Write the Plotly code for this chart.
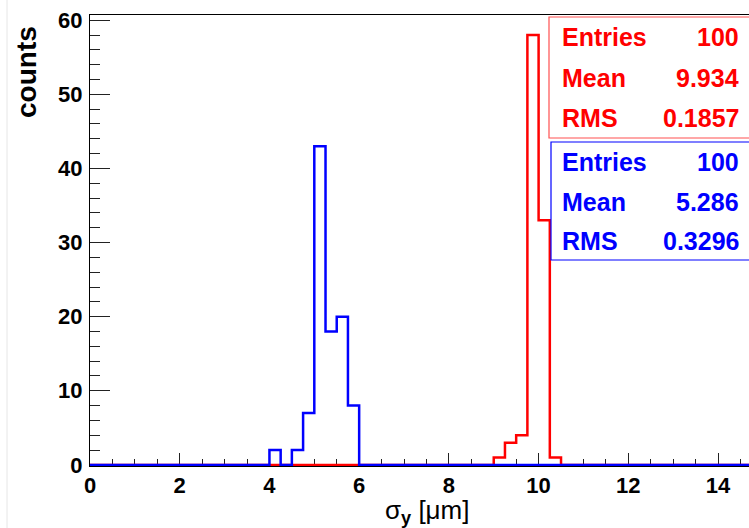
import numpy as np
import plotly.graph_objects as go

# ---- data ----
x_min, x_max, n_bins = 0.0, 15.0, 60
blue_bin_lo = [4.00, 4.25, 4.50, 4.75, 5.00, 5.25, 5.50, 5.75]
blue_counts = [2, 0, 2, 7, 43, 18, 20, 8]
red_bin_lo = [9.00, 9.25, 9.50, 9.75, 10.00, 10.25]
red_counts = [1, 3, 4, 58, 33, 1]

stat_labels = ["Entries", "Mean", "RMS"]
red_stats = ["100", "9.934", "0.1857"]
blue_stats = ["100", "5.286", "0.3296"]

x_ticks = [0, 2, 4, 6, 8, 10, 12, 14]
y_ticks = [0, 10, 20, 30, 40, 50, 60]

edges = np.linspace(x_min, x_max, n_bins + 1)
width = edges[1] - edges[0]


def full_hist(lo, cnt):
    h = np.zeros(n_bins)
    for a, c in zip(lo, cnt):
        h[int(round((a - x_min) / width))] = c
    return h


def step(h):
    return list(edges), list(h) + [h[-1]]


RED = "#ff0000"
BLUE = "#0000ff"
FONT = "Liberation Sans, Arial, sans-serif"

fig = go.Figure()
rx, ry = step(full_hist(red_bin_lo, red_counts))
bx, by = step(full_hist(blue_bin_lo, blue_counts))
fig.add_trace(go.Scatter(x=rx, y=ry, mode="lines", line=dict(color=RED, width=2.5, shape="hv"),
                         showlegend=False, hoverinfo="skip"))
fig.add_trace(go.Scatter(x=bx, y=by, mode="lines", line=dict(color=BLUE, width=2.5, shape="hv"),
                         showlegend=False, hoverinfo="skip"))

W, H = 749, 528
L, R, T, B = 90, 0, 15, 62
PW, PH = W - L - R, H - T - B


def px(xp):
    return (xp - L) / PW


def py(yp):
    return (H - B - yp) / PH


fig.update_layout(
    width=W, height=H,
    margin=dict(l=L, r=R, t=T, b=B),
    paper_bgcolor="white", plot_bgcolor="white",
    font=dict(family=FONT, color="black"),
    xaxis=dict(range=[0, (W - L) / 44.86], tickvals=x_ticks, ticktext=[str(v) for v in x_ticks],
               ticks="inside", ticklen=13, tickwidth=1, tickcolor="#222",
               minor=dict(dtick=0.5, ticks="inside", ticklen=7, tickwidth=1, tickcolor="#222"),
               showline=True, linecolor="black", linewidth=1, mirror=True,
               showgrid=False, zeroline=False, layer="below traces",
               tickfont=dict(size=22, family=FONT, weight="bold"), ticklabelstandoff=0),
    yaxis=dict(range=[-0.15, 60.7], tickvals=y_ticks, ticktext=[str(v) for v in y_ticks],
               ticks="inside", ticklen=20, tickwidth=1, tickcolor="#222",
               minor=dict(dtick=2, ticks="inside", ticklen=10, tickwidth=1, tickcolor="#222"),
               showline=True, linecolor="black", linewidth=1,
               showgrid=False, zeroline=False, layer="below traces",
               tickfont=dict(size=22, family=FONT, weight="bold"), ticklabelstandoff=2),
)

shapes = []
annotations = []
# faint frame edge at left of canvas
shapes.append(dict(type="line", xref="paper", yref="paper", x0=px(7), x1=px(7), y0=py(0), y1=py(H),
                   line=dict(color="#e6e6e6", width=1)))

boxes = [
    (RED, red_stats, 549, 17, 138, [37, 78, 118], "#ff5050"),
    (BLUE, blue_stats, 551, 142, 260, [162, 202, 241], BLUE),
]
for col, vals, bx0, by0, by1, rows, bcol in boxes:
    shapes.append(dict(type="rect", xref="paper", yref="paper", layer="above",
                       x0=px(bx0), x1=px(W + 5), y0=py(by1), y1=py(by0),
                       fillcolor="white", line=dict(color=bcol, width=1.2)))
    for lab, val, yr in zip(stat_labels, vals, rows):
        annotations.append(dict(xref="paper", yref="paper", x=px(560), y=py(yr), text=lab,
                                xanchor="left", yanchor="middle", showarrow=False,
                                font=dict(size=25, color=col, family=FONT, weight="bold")))
        annotations.append(dict(xref="paper", yref="paper", x=px(741), y=py(yr), text=val,
                                xanchor="right", yanchor="middle", showarrow=False,
                                font=dict(size=25, color=col, family=FONT, weight="bold")))

# axis titles
annotations.append(dict(xref="paper", yref="paper", x=px(27), y=py(72), text="counts", textangle=-90,
                        xanchor="center", yanchor="middle", showarrow=False,
                        font=dict(size=28, color="black", family=FONT, weight="bold")))
annotations.append(dict(xref="paper", yref="paper", x=px(427), y=py(511), borderpad=0,
                        text="σ<sub><b>y</b></sub> [μm]",
                        xanchor="center", yanchor="middle", showarrow=False,
                        font=dict(size=26, color="black", family=FONT)))

fig.update_layout(shapes=shapes, annotations=annotations)
fig.write_html("out.html", config={"displayModeBar": False},
               post_script="document.body.style.margin='0';document.body.style.overflow='hidden';")
